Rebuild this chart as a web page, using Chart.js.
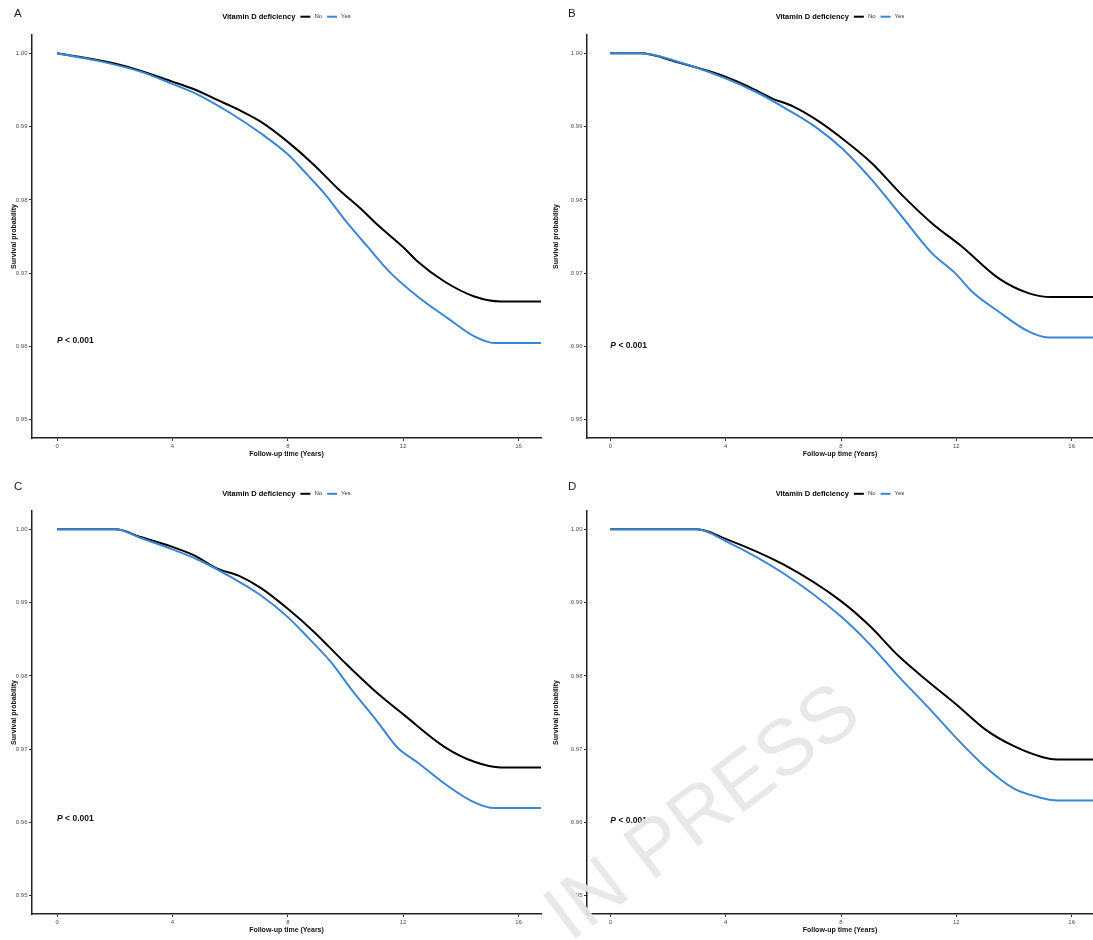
<!DOCTYPE html>
<html>
<head>
<meta charset="utf-8">
<script src="https://cdn.jsdelivr.net/npm/chart.js@4.4.1/dist/chart.umd.min.js"></script>
<style>
  html, body { margin: 0; padding: 0; background: #fff; width: 1093px; height: 940px; overflow: hidden; }
  .panel { position: absolute; }
  #wm { position: absolute; left: 0; top: 0; pointer-events: none; }
</style>
</head>
<body>
<div class="panel" id="pA"><canvas id="cA"></canvas></div>
<div class="panel" id="pB"><canvas id="cB"></canvas></div>
<div class="panel" id="pC"><canvas id="cC"></canvas></div>
<div class="panel" id="pD"><canvas id="cD"></canvas></div>
<svg id="wm" width="1093" height="940">
  <text x="570" y="943" transform="rotate(-37 570 943)" font-family="'Liberation Sans', Arial, sans-serif" font-size="79" fill="#e6e6e6" fill-opacity="0.92">IN PRESS</text>
</svg>
<script>
// ---------- data ----------
const seriesNames = ['No', 'Yes'];
const legendTitle = 'Vitamin D deficiency';
const xTitle = 'Follow-up time (Years)';
const yTitle = 'Survival probability';
const pValueText = '< 0.001';
const xTicks = [0, 4, 8, 12, 16];
const yTicks = [0.95, 0.96, 0.97, 0.98, 0.99, 1.00];

// Panel A
const timeA_No  = [0, 1.39, 2.43, 4.0, 4.75, 5.56, 6.31, 7.06, 7.99, 8.91, 9.72, 10.65, 11.11, 12.04, 12.5, 13.43, 14.47, 15.39, 17.0];
const survA_No  = [1.0, 0.99909, 0.99818, 0.99614, 0.99509, 0.99364, 0.99227, 0.99068, 0.98795, 0.98477, 0.98159, 0.97835, 0.97659, 0.97341, 0.97159, 0.96886, 0.96682, 0.96614, 0.96614];
const timeA_Yes = [0, 1.39, 2.89, 4.0, 4.86, 6.02, 7.06, 7.99, 8.68, 9.26, 10.07, 10.76, 11.57, 12.5, 13.54, 14.47, 15.16, 17.0];
const survA_Yes = [1.0, 0.999, 0.9975, 0.99582, 0.99441, 0.99182, 0.98909, 0.98625, 0.98341, 0.98091, 0.97682, 0.97364, 0.97, 0.96682, 0.96386, 0.96136, 0.96045, 0.96045];

// Panel B
const timeB_No  = [0, 1.04, 2.37, 3.99, 4.79, 5.6, 6.35, 7.1, 8.03, 9.07, 10.11, 11.15, 12.19, 13.46, 14.5, 15.31, 17.0];
const survB_No  = [1.0, 1.0, 0.99873, 0.99682, 0.99545, 0.99386, 0.99273, 0.99105, 0.98841, 0.985, 0.98068, 0.97682, 0.97364, 0.96932, 0.96727, 0.96673, 0.96673];
const timeB_Yes = [0, 1.04, 2.37, 3.99, 5.14, 6.07, 7.1, 8.03, 9.07, 10.11, 11.15, 11.96, 12.54, 13.46, 14.5, 15.19, 17.0];
const survB_Yes = [1.0, 1.0, 0.99882, 0.99659, 0.99455, 0.9925, 0.99, 0.98705, 0.98273, 0.97773, 0.97273, 0.97, 0.9675, 0.96477, 0.96205, 0.96123, 0.96123];

// Panel C
const timeC_No  = [0, 2.03, 2.89, 4.0, 4.75, 5.56, 6.31, 7.06, 7.99, 8.91, 9.95, 10.99, 12.04, 13.43, 14.47, 15.39, 17.0];
const survC_No  = [1.0, 1.0, 0.99895, 0.9976, 0.99645, 0.99464, 0.99364, 0.992, 0.98918, 0.986, 0.98191, 0.97805, 0.97464, 0.97032, 0.96827, 0.9675, 0.9675];
const timeC_Yes = [0, 2.03, 2.89, 4.0, 4.98, 6.02, 7.06, 7.99, 8.68, 9.49, 10.19, 11.11, 11.8, 12.5, 13.54, 14.47, 15.16, 17.0];
const survC_Yes = [1.0, 1.0, 0.99882, 0.99727, 0.99568, 0.9935, 0.991, 0.98805, 0.98532, 0.98191, 0.97823, 0.97373, 0.97023, 0.96818, 0.965, 0.96273, 0.96195, 0.96195];

// Panel D
const timeD_No  = [0, 3.0, 4.0, 6.0, 8.0, 9.0, 10.0, 11.0, 12.0, 13.0, 14.0, 15.0, 15.5, 17.0];
const survD_No  = [1.0, 1.0, 0.9987, 0.9952, 0.9902, 0.9868, 0.9827, 0.9793, 0.9761, 0.9727, 0.9704, 0.9689, 0.9686, 0.9686];
const timeD_Yes = [0, 3.0, 4.0, 6.0, 8.0, 9.0, 10.0, 11.0, 12.0, 13.0, 14.0, 15.0, 15.5, 17.0];
const survD_Yes = [1.0, 1.0, 0.9984, 0.994, 0.9881, 0.9843, 0.9799, 0.9758, 0.9715, 0.9676, 0.9646, 0.9633, 0.963, 0.963];

// ---------- styling / layout ----------
const FONT = '"Liberation Sans", Arial, Helvetica, sans-serif';
const colors = ['#000000', '#3b86d3'];

const panels = [
  { letter: 'A', canvas: 'cA', div: 'pA', left: 0,   top: 0,   w: 546, h: 470, yW: 32, padR: 5, yTitlePad: 9.5, xMin: -0.87, xMax: 16.78, letterX: 14, letterY: 13.5, legendY: 16.7, pY: 0.9608, data: [[timeA_No, survA_No], [timeA_Yes, survA_Yes]] },
  { letter: 'B', canvas: 'cB', div: 'pB', left: 546, top: 0,   w: 547, h: 470, yW: 41, padR: 0, yTitlePad: 5.8, xMin: -0.81, xMax: 16.74, letterX: 22, letterY: 13.5, legendY: 16.7, pY: 0.9601, data: [[timeB_No, survB_No], [timeB_Yes, survB_Yes]] },
  { letter: 'C', canvas: 'cC', div: 'pC', left: 0,   top: 476, w: 546, h: 470, yW: 32, padR: 5, yTitlePad: 9.5, xMin: -0.87, xMax: 16.78, letterX: 14, letterY: 10.5, legendY: 17.8, pY: 0.96045, data: [[timeC_No, survC_No], [timeC_Yes, survC_Yes]] },
  { letter: 'D', canvas: 'cD', div: 'pD', left: 546, top: 476, w: 547, h: 470, yW: 41, padR: 0, yTitlePad: 5.8, xMin: -0.81, xMax: 16.74, letterX: 22, letterY: 10.5, legendY: 17.8, pY: 0.9603, data: [[timeD_No, survD_No], [timeD_Yes, survD_Yes]] }
];

const panelDecor = {
  id: 'panelDecor',
  afterDraw(chart, args, o) {
    const ctx = chart.ctx;
    const ca = chart.chartArea;
    ctx.save();
    // panel letter
    ctx.font = '11.5px ' + FONT;
    ctx.fillStyle = '#1a1a1a';
    ctx.textBaseline = 'middle';
    ctx.textAlign = 'left';
    ctx.fillText(o.letter, o.letterX, o.letterY);

    // legend
    const fTitle = 'bold 7.5px ' + FONT;
    const fItem = '6px ' + FONT;
    ctx.font = fTitle; const wT = ctx.measureText(legendTitle).width;
    ctx.font = fItem;
    const wItems = seriesNames.map(s => ctx.measureText(s).width);
    const sw = 10, gT = 5, gS = 4, gI = 5;
    let total = wT + gT;
    wItems.forEach((w, i) => { total += sw + gS + w + (i < wItems.length - 1 ? gI : 0); });
    let x = (ca.left + ca.right) / 2 - total / 2;
    const y = o.legendY;
    ctx.font = fTitle; ctx.fillStyle = '#000';
    ctx.fillText(legendTitle, x, y);
    x += wT + gT;
    seriesNames.forEach((s, i) => {
      ctx.strokeStyle = colors[i];
      ctx.lineWidth = 2;
      ctx.beginPath(); ctx.moveTo(x, y); ctx.lineTo(x + sw, y); ctx.stroke();
      x += sw + gS;
      ctx.font = fItem; ctx.fillStyle = '#333';
      ctx.fillText(s, x, y);
      x += wItems[i] + gI;
    });

    // p-value annotation
    const px = chart.scales.x.getPixelForValue(0);
    const py = chart.scales.y.getPixelForValue(o.pY);
    ctx.fillStyle = '#111';
    ctx.font = 'italic bold 8.5px ' + FONT;
    ctx.fillText('P', px, py);
    const wP = ctx.measureText('P ').width;
    ctx.font = 'bold 8.5px ' + FONT;
    ctx.fillText(pValueText, px + wP, py);
    ctx.restore();
  }
};

panels.forEach(p => {
  const div = document.getElementById(p.div);
  div.style.left = p.left + 'px';
  div.style.top = p.top + 'px';
  div.style.width = p.w + 'px';
  div.style.height = p.h + 'px';
  const cv = document.getElementById(p.canvas);
  cv.width = p.w; cv.height = p.h;

  const datasets = seriesNames.map((name, i) => ({
    label: name,
    data: p.data[i][0].map((t, k) => ({ x: t, y: p.data[i][1][k] })),
    borderColor: colors[i],
    backgroundColor: colors[i],
    borderWidth: 2,
    pointRadius: 0,
    tension: 0,
    cubicInterpolationMode: 'monotone',
    fill: false,
    clip: 0,
    order: i === 1 ? 0 : 1
  }));

  new Chart(cv, {
    type: 'line',
    data: { datasets },
    plugins: [panelDecor],
    options: {
      responsive: false,
      animation: false,
      devicePixelRatio: 1,
      layout: { padding: { left: 0, right: p.padR, top: 35, bottom: 0 } },
      plugins: {
        legend: { display: false },
        tooltip: { enabled: false },
        panelDecor: p
      },
      scales: {
        x: {
          type: 'linear',
          min: p.xMin, max: p.xMax,
          afterFit: s => { s.height = 32; },
          afterBuildTicks: s => { s.ticks = xTicks.map(v => ({ value: v })); },
          grid: { display: true, drawOnChartArea: false, drawTicks: true, tickLength: 3, tickColor: '#333', tickWidth: 1 },
          border: { display: true, color: '#222', width: 1.5 },
          ticks: { font: { size: 6, family: FONT }, color: '#4d4d4d', padding: 1.5, maxRotation: 0, autoSkip: false, callback: v => String(v) },
          title: { display: true, text: xTitle, font: { size: 7, weight: 'bold', family: FONT }, color: '#111', padding: { top: 0, bottom: 11.8 } }
        },
        y: {
          type: 'linear',
          min: 0.9475, max: 1.0025,
          afterFit: s => { s.width = p.yW; },
          afterBuildTicks: s => { s.ticks = yTicks.map(v => ({ value: v })); },
          grid: { display: true, drawOnChartArea: false, drawTicks: true, tickLength: 3, tickColor: '#333', tickWidth: 1 },
          border: { display: true, color: '#222', width: 1.5 },
          ticks: { font: { size: 6, family: FONT }, color: '#4d4d4d', padding: 1.5, autoSkip: false, callback: v => Number(v).toFixed(2) },
          title: { display: true, text: yTitle, font: { size: 7, weight: 'bold', family: FONT }, color: '#111', padding: { top: p.yTitlePad, bottom: 0 } }
        }
      }
    }
  });
});
</script>
</body>
</html>
